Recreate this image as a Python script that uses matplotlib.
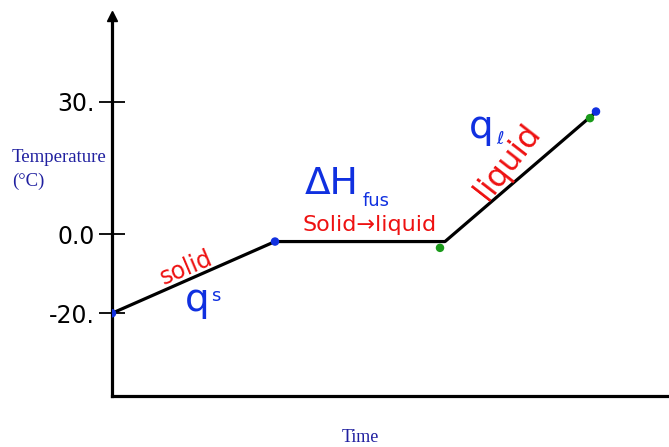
import numpy as np
import matplotlib
matplotlib.use("Agg")
import matplotlib.pyplot as plt

# Data (hand-drawn heating curve)
time = [0.0, 1.63, 3.33, 4.83]
temp = [-20.0, -1.8, -1.8, 27.5]
ytick_values = [-20, 0, 30]
ytick_labels = ["-20.", "0.0", "30."]
dot_time = [0.0, 1.63, 3.28, 4.78, 4.84]
dot_temp = [-20.0, -1.8, -3.4, 26.3, 27.8]
dot_colors = ["#1030e0", "#1030e0", "#1a9a1a", "#1a9a1a", "#1030e0"]

W, H = 669, 447
fig = plt.figure(figsize=(W / 100, H / 100), dpi=100)
ax = fig.add_axes([112 / W, (H - 396) / H, (W - 112) / W, (396 - 16) / H])

r = 0.891
def fwd(y):
    y = np.asarray(y, dtype=float)
    return np.where(y < 0, y * r, y)
def inv(y):
    y = np.asarray(y, dtype=float)
    return np.where(y < 0, y / r, y)
ax.set_yscale("function", functions=(fwd, inv))

ax.plot(time, temp, color="black", lw=2.3, solid_capstyle="round", zorder=3)
ax.scatter(dot_time, dot_temp, s=26, c=dot_colors, marker="o", zorder=4)

ax.set_xlim(0, 5.57)
ax.set_ylim(-41.0, 49.4)

for s in ["top", "right"]:
    ax.spines[s].set_visible(False)
for s in ["left", "bottom"]:
    ax.spines[s].set_linewidth(2.3)
ax.set_xticks([])
ax.set_yticks(ytick_values)
ax.set_yticklabels(ytick_labels, fontsize=17, family="DejaVu Sans", color="black")
ax.tick_params(axis="y", direction="inout", length=19, width=1.3, pad=3)

# arrow at top of y axis
ax.plot([0], [1], marker="^", color="black", markersize=7, transform=ax.transAxes, clip_on=False)

def px(x, y):
    return x / W, 1 - y / H

tc = "#2020a0"
fig.text(*px(12, 158), "Temperature", fontsize=13.5, family="Liberation Serif", color=tc, va="center", ha="left")
fig.text(*px(12, 181), "(°C)", fontsize=13.5, family="Liberation Serif", color=tc, va="center", ha="left")
fig.text(*px(360, 437), "Time", fontsize=13, family="Liberation Serif", color=tc, va="center", ha="center")

red = "#ee1111"
blue = "#1030e0"
fig.text(*px(186, 268), "solid", fontsize=17, color=red, rotation=23, ha="center", va="center")
fig.text(*px(197, 300), "q", fontsize=28, color=blue, ha="center", va="center")
fig.text(*px(216, 296), "s", fontsize=13, color=blue, ha="center", va="center")
fig.text(*px(332, 184), "ΔH", fontsize=27, color=blue, ha="center", va="center")
fig.text(*px(376, 201), "fus", fontsize=13, color=blue, ha="center", va="center")
fig.text(*px(370, 225), "Solid→liquid", fontsize=16, color=red, ha="center", va="center")
fig.text(*px(481, 127), "q", fontsize=28, color=blue, ha="center", va="center")
fig.text(*px(500, 139), "ℓ", fontsize=13, color=blue, ha="center", va="center")
fig.text(*px(508, 162), "liquid", fontsize=23, color=red, rotation=52, ha="center", va="center")

fig.savefig("out.png", dpi=100)
